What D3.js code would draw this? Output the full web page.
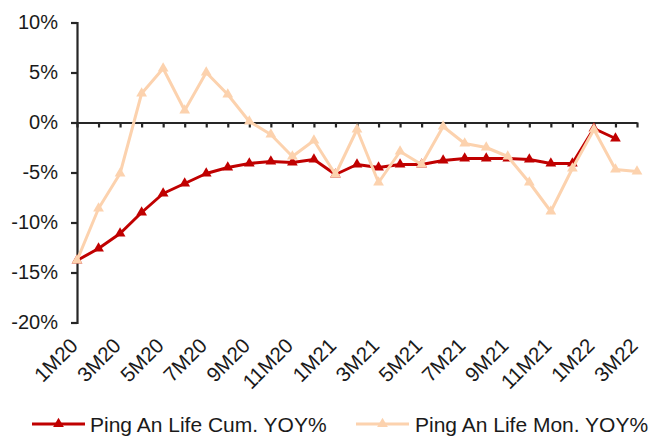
<!DOCTYPE html>
<html>
<head>
<meta charset="utf-8">
<script src="https://cdn.jsdelivr.net/npm/d3@7"></script>
<style>
  body { margin: 0; background: #fff; }
  text { font-family: "Liberation Sans", Arial, sans-serif; fill: #1a1a1a; }
</style>
</head>
<body>
<svg id="chart" width="654" height="437"></svg>
<script>
var months = ["1M20","2M20","3M20","4M20","5M20","6M20","7M20","8M20","9M20","10M20","11M20","12M20",
              "1M21","2M21","3M21","4M21","5M21","6M21","7M21","8M21","9M21","10M21","11M21","12M21",
              "1M22","2M22","3M22"];
// cumulative yoy, % (no value for 3M22)
var cumYoy = [-13.8,-12.6,-11.1,-9.0,-7.1,-6.1,-5.1,-4.5,-4.1,-3.9,-4.0,-3.7,
              -5.2,-4.2,-4.5,-4.2,-4.2,-3.8,-3.6,-3.6,-3.6,-3.7,-4.1,-4.1,
              -0.6,-1.6,null];
// monthly yoy, %
var monYoy = [-13.8,-8.6,-5.1,2.9,5.4,1.2,5.0,2.8,0.1,-1.2,-3.4,-1.8,
              -5.2,-0.7,-6.0,-2.9,-4.2,-0.4,-2.1,-2.5,-3.4,-6.0,-8.9,-4.6,
              -0.7,-4.7,-4.9];
var yTicks = [10,5,0,-5,-10,-15,-20];
var seriesNames = ["Ping An Life Cum. YOY%","Ping An Life Mon. YOY%"];
var colors = ["#c00000","#fcd2ae"];

var svg = d3.select("#chart");
var axisColor = "#262626";

var x = d3.scalePoint().domain(months).range([77, 637]);
var y = d3.scaleLinear().domain([-20, 10]).range([322.5, 22.5]);

// y axis
var yAxis = svg.append("g")
    .attr("transform", "translate(77,0)")
    .call(d3.axisLeft(y).tickValues(yTicks).tickSize(6).tickSizeOuter(6)
        .tickFormat(function(d){ return d + "%"; }));
yAxis.select(".domain").attr("stroke", axisColor).attr("stroke-width", 2.2);
yAxis.selectAll(".tick line").attr("stroke", axisColor).attr("stroke-width", 2.2);
yAxis.selectAll(".tick text")
    .attr("x", -19)
    .style("font-size", "20px")
    .style("font-family", "'Liberation Sans', Arial, sans-serif")
    .attr("fill", "#1a1a1a");

// zero line with category ticks
var xAxis = svg.append("g")
    .attr("transform", "translate(0," + y(0) + ")")
    .call(d3.axisBottom(x).tickSize(5).tickSizeOuter(0).tickFormat(""));
xAxis.select(".domain").attr("stroke", axisColor).attr("stroke-width", 2.2);
xAxis.selectAll(".tick line").attr("stroke", axisColor).attr("stroke-width", 2.2);

// rotated category labels, every other month
svg.append("g").selectAll("text")
    .data(months.filter(function(d, i){ return i % 2 === 0; }))
    .enter().append("text")
    .attr("transform", function(d){ return "translate(" + (x(d) + 2) + ",347) rotate(-45)"; })
    .attr("text-anchor", "end")
    .style("font-size", "20.5px")
    .text(function(d){ return d; });

var line = d3.line()
    .defined(function(d){ return d != null; })
    .x(function(d, i){ return x(months[i]); })
    .y(function(d){ return y(d); });

var tri = d3.symbol().type(d3.symbolTriangle).size(50);

[cumYoy, monYoy].forEach(function(vals, k){
    var g = svg.append("g");
    g.append("path")
        .attr("d", line(vals))
        .attr("fill", "none")
        .attr("stroke", colors[k])
        .attr("stroke-width", 3)
        .attr("stroke-linejoin", "round");
    g.selectAll("path.mk")
        .data(vals.map(function(v, i){ return {v: v, m: months[i]}; })
                  .filter(function(d){ return d.v != null; }))
        .enter().append("path")
        .attr("class", "mk")
        .attr("d", tri)
        .attr("fill", colors[k])
        .attr("transform", function(d){ return "translate(" + x(d.m) + "," + y(d.v) + ")"; });
});

// legend
var legendPos = [{x0: 32, x1: 85, tx: 90}, {x0: 356, x1: 409, tx: 415}];
legendPos.forEach(function(p, k){
    var g = svg.append("g");
    g.append("line")
        .attr("x1", p.x0).attr("x2", p.x1)
        .attr("y1", 424).attr("y2", 424)
        .attr("stroke", colors[k]).attr("stroke-width", 3);
    g.append("path")
        .attr("d", tri)
        .attr("fill", colors[k])
        .attr("transform", "translate(" + ((p.x0 + p.x1) / 2) + ",424)");
    g.append("text")
        .attr("x", p.tx).attr("y", 432)
        .style("font-size", "21px")
        .text(seriesNames[k]);
});
</script>
</body>
</html>
